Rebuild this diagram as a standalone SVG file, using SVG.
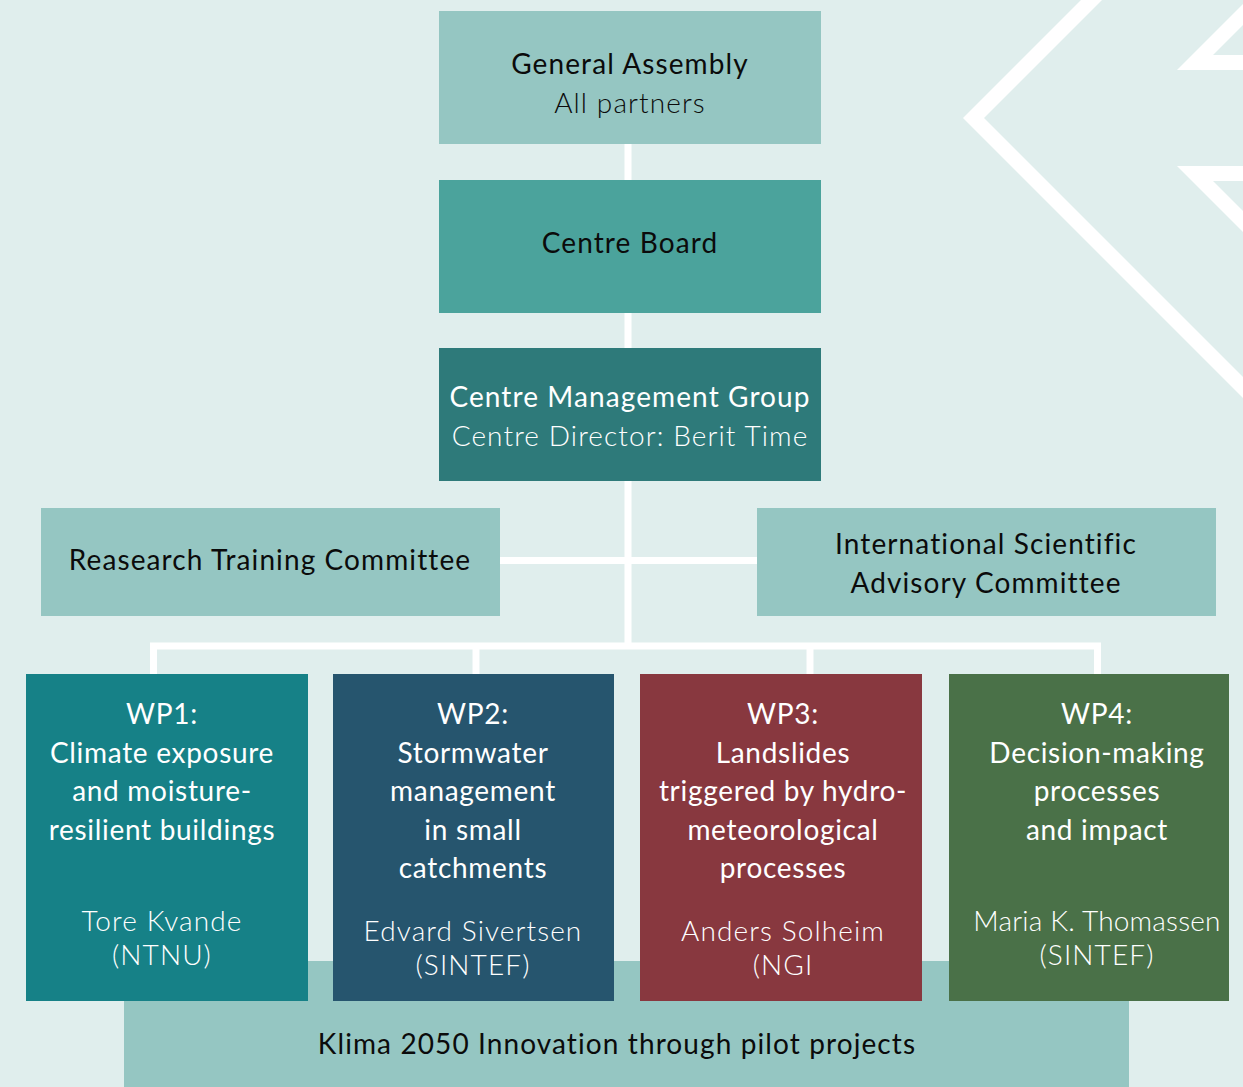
<svg xmlns="http://www.w3.org/2000/svg" width="1243" height="1087" viewBox="0 0 1243 1087">
<style>
.t{font-family:Lato,"Noto Sans",sans-serif;font-size:28px;letter-spacing:1.1px;text-anchor:middle}
.d{fill:#0b0b0b}
.w{fill:#ffffff}
.l{font-weight:300}
.h{letter-spacing:0.7px}
.ln{stroke:#ffffff;stroke-width:7;fill:none}
</style>
<rect width="1243" height="1087" fill="#e0eeed"/>
<g id="decoration" fill="#ffffff">
<polygon points="1081,0 963,118 1243,398 1243,377 984,118 1102,0"/>
<polygon points="1177,70 1243,70 1243,55 1213,55 1243,25 1243,4"/>
<polygon points="1177,166 1243,166 1243,181 1213,181 1243,211 1243,232"/>
</g>
<g id="connectors" class="ln">
<line x1="628" y1="144" x2="628" y2="646"/>
<line x1="500" y1="560.5" x2="757" y2="560.5"/>
<polyline points="153.5,674 153.5,646 1097.5,646 1097.5,674"/>
<line x1="476" y1="646" x2="476" y2="674"/>
<line x1="810" y1="646" x2="810" y2="674"/>
</g>
<g id="general-assembly">
<rect x="439" y="11" width="382" height="133" fill="#95c6c2"/>
<text class="t d" x="630" y="74">General Assembly</text>
<text class="t d l" x="630" y="113">All partners</text>
</g>
<g id="centre-board">
<rect x="439" y="180" width="382" height="133" fill="#4ba39c"/>
<text class="t d" x="630" y="253">Centre Board</text>
</g>
<g id="centre-management-group">
<rect x="439" y="348" width="382" height="133" fill="#2e7a7a"/>
<text class="t w" x="630" y="407">Centre Management Group</text>
<text class="t w l" x="630" y="446">Centre Director: Berit Time</text>
</g>
<g id="research-training-committee">
<rect x="41" y="508" width="459" height="108" fill="#95c6c2"/>
<text class="t d" x="270" y="570">Reasearch Training Committee</text>
</g>
<g id="isac">
<rect x="757" y="508" width="459" height="108" fill="#95c6c2"/>
<text class="t d" x="986" y="554">International Scientific</text>
<text class="t d" x="986" y="593">Advisory Committee</text>
</g>
<g id="klima">
<rect x="124" y="961" width="1005" height="126" fill="#95c6c2"/>
<text class="t d" x="617" y="1054">Klima 2050 Innovation through pilot projects</text>
</g>
<g id="wp1">
<rect x="26" y="674" width="282" height="327" fill="#168187"/>
<text class="t w h" x="162" y="724">WP1:</text>
<text class="t w h" x="162" y="763">Climate exposure</text>
<text class="t w h" x="162" y="801">and moisture-</text>
<text class="t w h" x="162" y="840">resilient buildings</text>
<text class="t w l" x="162" y="931">Tore Kvande</text>
<text class="t w l" x="162" y="965">(NTNU)</text>
</g>
<g id="wp2">
<rect x="333" y="674" width="281" height="327" fill="#26556e"/>
<text class="t w h" x="473" y="724">WP2:</text>
<text class="t w h" x="473" y="763">Stormwater</text>
<text class="t w h" x="473" y="801">management</text>
<text class="t w h" x="473" y="840">in small</text>
<text class="t w h" x="473" y="878">catchments</text>
<text class="t w l" x="473" y="941">Edvard Sivertsen</text>
<text class="t w l" x="473" y="975">(SINTEF)</text>
</g>
<g id="wp3">
<rect x="640" y="674" width="282" height="327" fill="#88383f"/>
<text class="t w h" x="783" y="724">WP3:</text>
<text class="t w h" x="783" y="763">Landslides</text>
<text class="t w h" x="783" y="801">triggered by hydro-</text>
<text class="t w h" x="783" y="840">meteorological</text>
<text class="t w h" x="783" y="878">processes</text>
<text class="t w l" x="783" y="941">Anders Solheim</text>
<text class="t w l" x="783" y="975">(NGI</text>
</g>
<g id="wp4">
<rect x="949" y="674" width="280" height="327" fill="#4a7148"/>
<text class="t w h" x="1097" y="724">WP4:</text>
<text class="t w h" x="1097" y="763">Decision-making</text>
<text class="t w h" x="1097" y="801">processes</text>
<text class="t w h" x="1097" y="840">and impact</text>
<text class="t w l" x="1097" y="931" style="letter-spacing:0.2px">Maria K. Thomassen</text>
<text class="t w l" x="1097" y="965">(SINTEF)</text>
</g>
</svg>
